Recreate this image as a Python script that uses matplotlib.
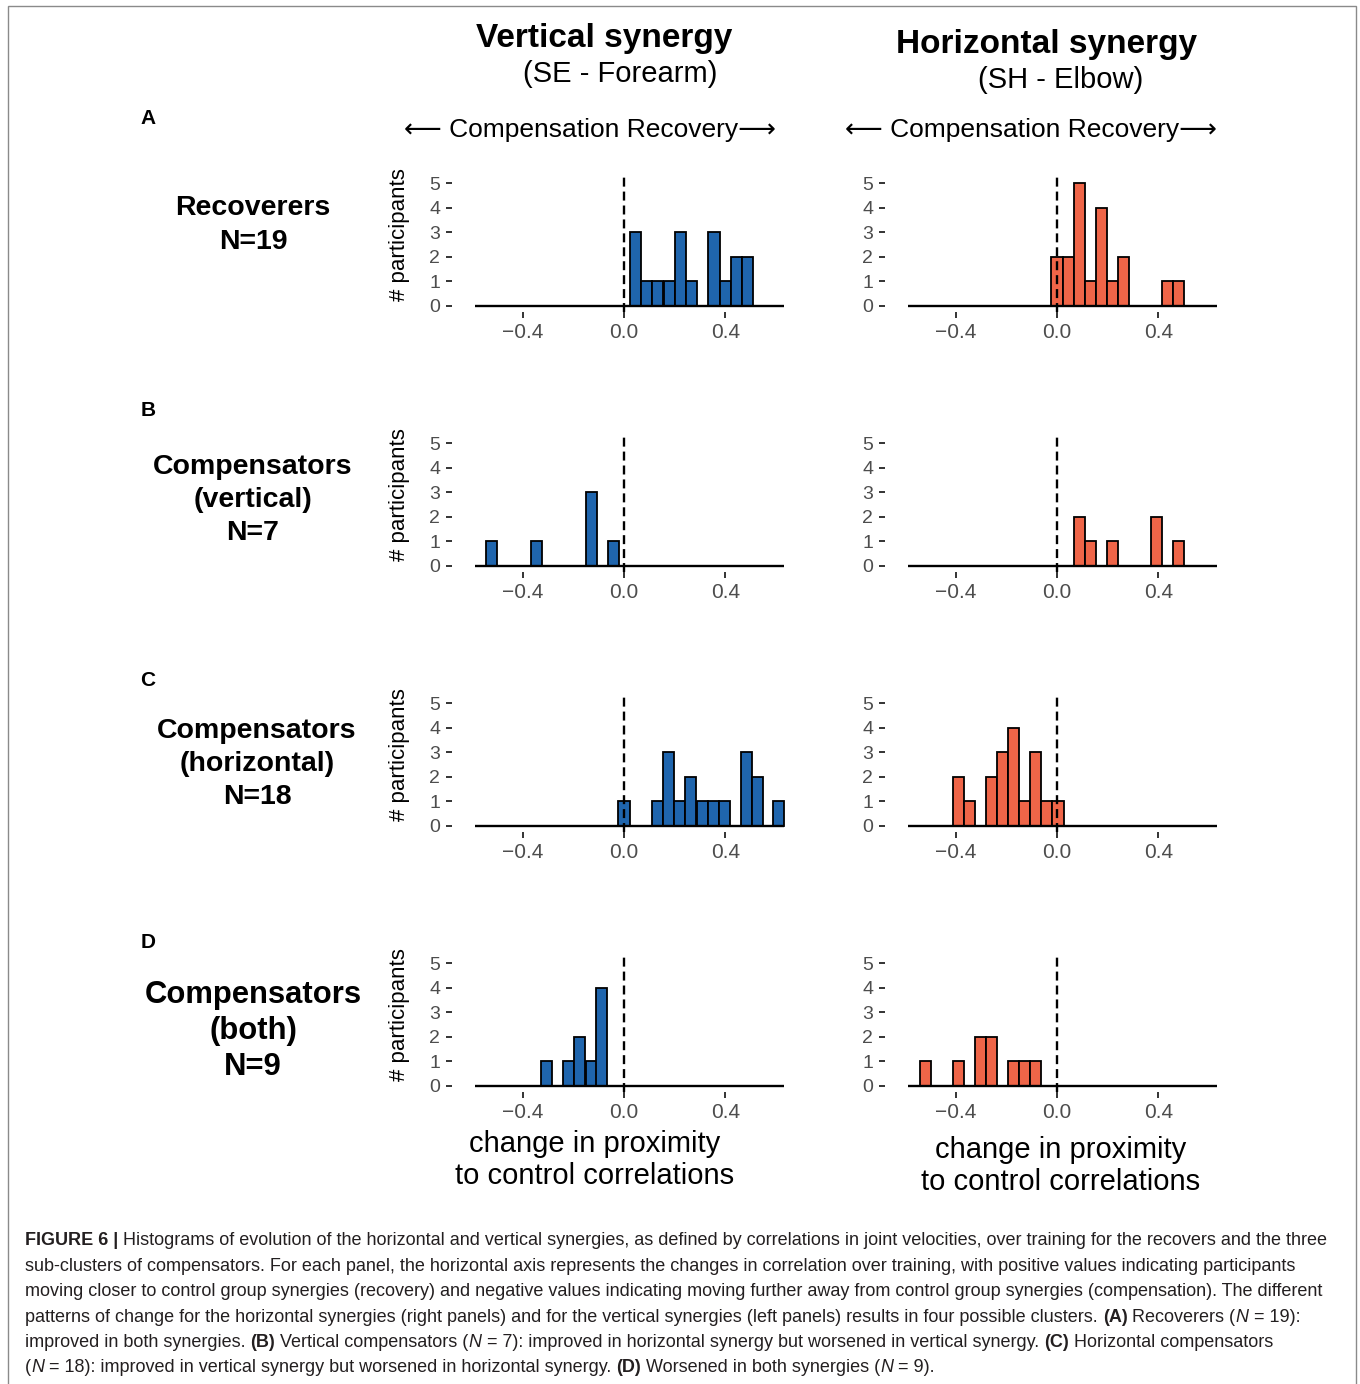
import matplotlib
matplotlib.use('Agg')
import matplotlib.pyplot as plt
from matplotlib.patches import Rectangle

plt.rcParams['font.family'] = ['Liberation Sans', 'DejaVu Sans']

W, H = 1360, 1384

# bin centres and counts
vert_A_x = [0.045, 0.089, 0.133, 0.178, 0.222, 0.266, 0.355, 0.399, 0.443, 0.488]
vert_A_n = [3, 1, 1, 1, 3, 1, 3, 1, 2, 2]
hor_A_x = [0.0, 0.044, 0.088, 0.131, 0.175, 0.219, 0.263, 0.437, 0.481]
hor_A_n = [2, 2, 5, 1, 4, 1, 2, 1, 1]

vert_B_x = [-0.521, -0.347, -0.130, -0.043]
vert_B_n = [1, 1, 3, 1]
hor_B_x = [0.088, 0.132, 0.219, 0.393, 0.479]
hor_B_n = [2, 1, 1, 2, 1]

vert_C_x = [0.0, 0.132, 0.176, 0.220, 0.264, 0.309, 0.352, 0.395, 0.482, 0.526, 0.611]
vert_C_n = [1, 1, 3, 1, 2, 1, 1, 1, 3, 2, 1]
hor_C_x = [-0.390, -0.346, -0.259, -0.215, -0.171, -0.128, -0.084, -0.040, 0.004]
hor_C_n = [2, 1, 2, 3, 4, 1, 3, 1, 1]

vert_D_x = [-0.305, -0.218, -0.174, -0.130, -0.087]
vert_D_n = [1, 1, 2, 1, 4]
hor_D_x = [-0.520, -0.390, -0.302, -0.258, -0.170, -0.127, -0.083]
hor_D_n = [1, 1, 2, 2, 1, 1, 1]

bin_w = [[0.0443, 0.0437], [0.0434, 0.0435], [0.0437, 0.0437], [0.0437, 0.0435]]

x_ticks = [-0.4, 0.0, 0.4]
x_tick_labels = ['\u22120.4', '0.0', '0.4']
y_ticks = [0, 1, 2, 3, 4, 5]

row_letters = ['A', 'B', 'C', 'D']
row_names = ['Recoverers\nN=19', 'Compensators\n(vertical)\nN=7',
             'Compensators\n(horizontal)\nN=18', 'Compensators\n(both)\nN=9']

blue = '#1F65AD'
red = '#EF6548'


def fx(px):
    return px / W


def fy(py):
    return 1 - py / H


fig = plt.figure(figsize=(W / 100, H / 100), dpi=100)
fig.patches.append(Rectangle((fx(8), -0.02), (1356 - 8) / W, fy(6) + 0.02,
                             transform=fig.transFigure, fill=False,
                             edgecolor='#8a8a8a', lw=1.0))

panels = [
    [(vert_A_x, vert_A_n), (hor_A_x, hor_A_n)],
    [(vert_B_x, vert_B_n), (hor_B_x, hor_B_n)],
    [(vert_C_x, vert_C_n), (hor_C_x, hor_C_n)],
    [(vert_D_x, vert_D_n), (hor_D_x, hor_D_n)],
]

rows = [306, 566, 826, 1086]   # pixel row of y = 0
zeros = [624, 1057]            # pixel column of x = 0
xlim = (-0.679, 0.70)
ylim = (-0.25, 5.25)
ux, uy = 253.5, 24.6
line_lo, line_hi = -0.587, 0.633

for r, base in enumerate(rows):
    for c, zero in enumerate(zeros):
        xs, ns = panels[r][c]
        left = zero + xlim[0] * ux
        bottom = base - ylim[0] * uy
        ax = fig.add_axes([fx(left), fy(bottom), (xlim[1] - xlim[0]) * ux / W,
                           (ylim[1] - ylim[0]) * uy / H])
        ax.bar(xs, ns, width=bin_w[r][c], color=[blue, red][c],
               edgecolor='black', linewidth=1.3, zorder=2)
        ax.hlines(0, line_lo, line_hi, color='black', lw=1.7, zorder=3)
        ax.axvline(0, color='black', lw=1.7, ls=(0, (3.8, 2.1)), zorder=4)
        ax.set_xlim(xlim)
        ax.set_ylim(ylim)
        ax.set_xticks(x_ticks)
        ax.set_xticklabels(x_tick_labels)
        ax.set_yticks(y_ticks)
        for s in ax.spines.values():
            s.set_visible(False)
        ax.patch.set_alpha(0)
        ax.tick_params(axis='x', length=4.3, width=1.4, color='#333333',
                       labelsize=15, labelcolor='#4d4d4d', pad=3.5)
        ax.tick_params(axis='y', length=4.3, width=1.4, color='#333333',
                       labelsize=14, labelcolor='#4d4d4d', pad=4)
        if c == 0:
            fig.text(fx(400), fy(base - 71), '# participants', rotation=90,
                     ha='center', va='center', fontsize=16)

# column headings
fig.text(fx(604), fy(39), 'Vertical synergy', ha='center', va='center',
         fontsize=24, fontweight='bold')
fig.text(fx(620), fy(74), '(SE - Forearm)', ha='center', va='center', fontsize=21)
fig.text(fx(1047), fy(44), 'Horizontal synergy', ha='center', va='center',
         fontsize=24, fontweight='bold')
fig.text(fx(1061), fy(80), '(SH - Elbow)', ha='center', va='center', fontsize=21)
for cx in [590, 1031]:
    fig.text(fx(cx), fy(130), '\u27f5 Compensation Recovery\u27f6',
             ha='center', va='center', fontsize=19)

# row labels
letter_y = [118, 410, 680, 943]
name_pos = [(253, 225), (253, 500), (257, 764), (253, 1031)]
name_size = [20.5, 20.5, 20.5, 22.3]
name_spacing = [1.36, 1.37, 1.36, 1.27]
for i in range(4):
    fig.text(fx(148), fy(letter_y[i]), row_letters[i], ha='center', va='center',
             fontsize=15, fontweight='bold')
    fig.text(fx(name_pos[i][0]), fy(name_pos[i][1]), row_names[i], ha='center',
             va='center', multialignment='center', fontsize=name_size[i],
             fontweight='bold', linespacing=name_spacing[i])

# x axis titles
fig.text(fx(595), fy(1160), 'change in proximity\nto control correlations',
         ha='center', va='center', multialignment='center', fontsize=21,
         linespacing=1.2)
fig.text(fx(1061), fy(1166), 'change in proximity\nto control correlations',
         ha='center', va='center', multialignment='center', fontsize=21,
         linespacing=1.2)

# caption
caption = [
    [('FIGURE 6 |', 'b'), (' Histograms of evolution of the horizontal and vertical synergies, as defined by correlations in joint velocities, over training for the recovers and the three', 'r')],
    [('sub-clusters of compensators. For each panel, the horizontal axis represents the changes in correlation over training, with positive values indicating participants', 'r')],
    [('moving closer to control group synergies (recovery) and negative values indicating moving further away from control group synergies (compensation). The different', 'r')],
    [('patterns of change for the horizontal synergies (right panels) and for the vertical synergies (left panels) results in four possible clusters. ', 'r'), ('(A)', 'b'), (' Recoverers (', 'r'), ('N', 'i'), (' = 19):', 'r')],
    [('improved in both synergies. ', 'r'), ('(B)', 'b'), (' Vertical compensators (', 'r'), ('N', 'i'), (' = 7): improved in horizontal synergy but worsened in vertical synergy. ', 'r'), ('(C)', 'b'), (' Horizontal compensators', 'r')],
    [('(', 'r'), ('N', 'i'), (' = 18): improved in vertical synergy but worsened in horizontal synergy. ', 'r'), ('(D)', 'b'), (' Worsened in both synergies (', 'r'), ('N', 'i'), (' = 9).', 'r')],
]
caption_y = [1239, 1265, 1290, 1316, 1341, 1366]
renderer = fig.canvas.get_renderer()


def style_kw(st):
    return {'fontweight': 'bold' if st == 'b' else 'normal',
            'fontstyle': 'italic' if st == 'i' else 'normal'}


def text_w(s, size, st):
    t = fig.text(0, 0, s, fontsize=size, **style_kw(st))
    w = t.get_window_extent(renderer).width
    t.remove()
    return w


def draw_runs(runs, y, size, draw=True):
    x = 25.0
    sp = text_w('n n', size, 'r') - text_w('nn', size, 'r')
    for s, st in runs:
        if s.startswith(' '):
            x += sp
        core = s.strip()
        if core:
            if draw:
                fig.text(fx(x), fy(y + 6), core, fontsize=size, ha='left',
                         va='baseline', color='#231f20', **style_kw(st))
            x += text_w(core, size, st)
        if s.endswith(' ') and core:
            x += sp
    return x - 25


size0 = 12
cap_size = size0 * 1302 / draw_runs(caption[0], 0, size0, draw=False)
for runs, y in zip(caption, caption_y):
    draw_runs(runs, y, cap_size)

fig.savefig('out.png', dpi=100)
